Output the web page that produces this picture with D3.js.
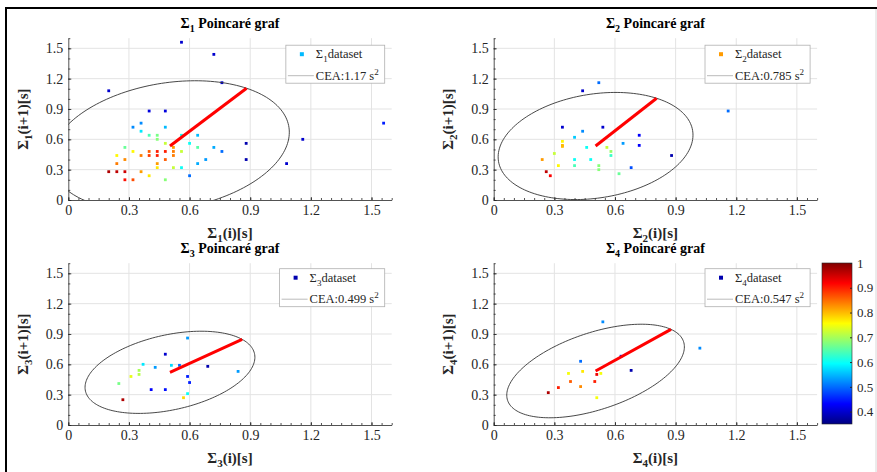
<!DOCTYPE html>
<html>
<head>
<meta charset="utf-8">
<script src="https://cdn.jsdelivr.net/npm/d3@7"></script>
<style>
body { margin: 0; background: #fff; }
svg { display: block; font-family: "Liberation Serif", "Times New Roman", serif; }
</style>
</head>
<body>
<div id="chart"></div>
<script>
// ---- data ----
var s1x = [0.40,0.48,0.32,0.36,0.48,0.36,0.40,0.44,0.44,0.56,0.64,0.48,0.52,0.60,0.64,0.72,0.76,0.88,0.88,
           0.28,0.24,0.32,0.24,0.28,0.36,0.40,0.40,0.44,0.44,0.48,0.48,0.52,0.52,0.56,0.44,0.44,0.52,0.56,
           0.20,0.24,0.28,0.36,0.40,0.28,0.32,0.48,0.60,0.64,0.68,
           0.56,0.72,0.76,0.20,1.56,1.16,1.08];
var s1y = [0.88,0.88,0.72,0.76,0.72,0.68,0.64,0.64,0.60,0.64,0.64,0.56,0.52,0.56,0.52,0.52,0.48,0.56,0.40,
           0.52,0.44,0.48,0.36,0.40,0.44,0.48,0.44,0.48,0.44,0.48,0.40,0.48,0.44,0.48,0.36,0.32,0.32,0.32,
           0.28,0.28,0.28,0.28,0.24,0.20,0.20,0.20,0.24,0.36,0.40,
           1.56,1.44,1.16,1.08,0.76,0.60,0.36];
var s1c = [0.41,0.41,0.52,0.52,0.55,0.58,0.64,0.67,0.68,0.60,0.55,0.72,0.82,0.60,0.65,0.54,0.50,0.38,0.38,
           0.66,0.76,0.76,0.84,0.83,0.84,0.86,0.88,0.90,0.90,0.90,0.86,0.84,0.84,0.72,0.82,0.77,0.72,0.60,
           0.97,0.96,0.95,0.82,0.77,0.91,0.87,0.68,0.50,0.54,0.53,
           0.40,0.40,0.40,0.40,0.45,0.40,0.40];

var s2x = [0.52,0.44,1.16,0.34,0.54,0.44,0.40,0.72,0.72,0.64,0.34,0.34,0.34,0.46,0.56,0.58,0.58,0.30,
           0.24,0.40,0.48,0.32,0.40,0.52,0.52,0.68,0.62,0.26,0.28,0.88];
var s2y = [1.16,1.08,0.88,0.72,0.72,0.68,0.62,0.64,0.54,0.56,0.58,0.54,0.53,0.52,0.52,0.48,0.44,0.46,
           0.40,0.40,0.40,0.34,0.34,0.34,0.30,0.32,0.26,0.28,0.24,0.44];
var s2c = [0.50,0.40,0.50,0.40,0.40,0.52,0.56,0.43,0.43,0.53,0.76,0.80,0.80,0.60,0.72,0.69,0.63,0.72,
           0.82,0.60,0.60,0.76,0.64,0.68,0.68,0.48,0.66,0.96,0.92,0.38];

var s3x = [0.59,0.48,0.37,0.43,0.51,0.55,0.69,0.84,0.35,0.35,0.31,0.25,0.59,0.60,0.41,0.48,0.59,0.57,0.27];
var s3y = [0.86,0.70,0.60,0.57,0.59,0.59,0.58,0.53,0.54,0.50,0.48,0.41,0.48,0.42,0.35,0.35,0.31,0.27,0.25];
var s3c = [0.53,0.40,0.58,0.53,0.57,0.50,0.38,0.53,0.70,0.71,0.74,0.67,0.45,0.45,0.43,0.44,0.60,0.78,0.97];

var s4x = [0.54,1.02,0.63,0.43,0.68,0.37,0.44,0.53,0.51,0.38,0.50,0.32,0.43,0.27,0.51];
var s4y = [1.02,0.76,0.68,0.63,0.54,0.51,0.53,0.51,0.50,0.43,0.43,0.37,0.38,0.32,0.27];
var s4c = [0.52,0.52,0.45,0.50,0.38,0.75,0.77,0.75,0.93,0.86,0.90,0.90,0.83,0.97,0.75];

var subs = ['1', '2', '3', '4'];
var ceaVals = [1.17, 0.785, 0.499, 0.547];
var ceaLabels = ['1.17', '0.785', '0.499', '0.547'];
var centerX = [0.503, 0.504, 0.503, 0.504];
var centerY = [0.534, 0.534, 0.521, 0.534];
var axisEndX = [0.882, 0.806, 0.860, 0.877];
var axisEndY = [1.105, 1.006, 0.847, 0.946];
var legendC = [0.55, 0.82, 0.38, 0.38];

var tickVals = [0, 0.3, 0.6, 0.9, 1.2, 1.5];
var cbarTicks = [0.4, 0.5, 0.6, 0.7, 0.8, 0.9, 1];
var cRange = [0.35, 1];

var xs = [s1x, s2x, s3x, s4x], ys = [s1y, s2y, s3y, s4y], cs = [s1c, s2c, s3c, s4c];

// ---- layout ----
var width = 877, height = 472;
var colLeft = [68.3, 493.7], rowTop = [38.2, 263.2];
var pw = 323.4, ph = 161.8;
var axisColor = '#262626';
var serif = '"Liberation Serif","Times New Roman",serif';

var svg = d3.select('#chart').append('svg')
	.attr('width', width)
	.attr('height', height);

// jet colormap over the colour range
var jetPos = [0, 0.125, 0.375, 0.625, 0.875, 1];
var jetCol = ['#000080', '#0000ff', '#00ffff', '#ffff00', '#ff0000', '#800000'];
var jet = d3.scaleLinear()
	.domain(jetPos.map(function (p) { return cRange[0] + p * (cRange[1] - cRange[0]); }))
	.range(jetCol)
	.clamp(true);

var fmt = function (d) { return d === 0 ? '0' : (d === 1 ? '1' : d3.format('.1f')(d)); };

// Σ with a subscript, then the rest
function sigmaText(sel, sub, rest, subSize) {
	sel.append('tspan').text('Σ');
	sel.append('tspan').attr('dy', 4).attr('font-size', subSize).text(sub);
	sel.append('tspan').attr('dy', -4).text(rest);
}

var defs = svg.append('defs');

function drawPanel(i) {
	var px0 = colLeft[i % 2], py0 = rowTop[Math.floor(i / 2)];
	var x = d3.scaleLinear().domain([0, 1.6]).range([px0, px0 + pw]);
	var y = d3.scaleLinear().domain([0, 1.6]).range([py0 + ph, py0]);
	var g = svg.append('g');

	defs.append('clipPath').attr('id', 'clip' + i)
		.append('rect').attr('x', px0).attr('y', py0).attr('width', pw).attr('height', ph);

	// grid
	g.selectAll('.gx').data(tickVals.slice(1)).enter().append('line')
		.attr('x1', function (d) { return x(d); }).attr('x2', function (d) { return x(d); })
		.attr('y1', py0).attr('y2', py0 + ph)
		.attr('stroke', '#e3e3e3').attr('stroke-width', 1);
	g.selectAll('.gy').data(tickVals.slice(1)).enter().append('line')
		.attr('y1', function (d) { return y(d); }).attr('y2', function (d) { return y(d); })
		.attr('x1', px0).attr('x2', px0 + pw)
		.attr('stroke', '#e3e3e3').attr('stroke-width', 1);

	// axes, major and minor ticks pointing inward
	g.append('g').attr('transform', 'translate(0,' + (py0 + ph) + ')')
		.call(d3.axisBottom(x).tickValues(tickVals).tickFormat(fmt).tickSizeInner(-3).tickSizeOuter(0).tickPadding(5));
	g.append('g').attr('transform', 'translate(0,' + (py0 + ph) + ')')
		.call(d3.axisBottom(x).tickValues(d3.range(0, 1.601, 0.05)).tickFormat('').tickSizeInner(-2).tickSizeOuter(0))
		.select('.domain').remove();
	g.append('g').attr('transform', 'translate(' + px0 + ',0)')
		.call(d3.axisLeft(y).tickValues(tickVals).tickFormat(fmt).tickSizeInner(-3).tickSizeOuter(0).tickPadding(5));
	g.append('g').attr('transform', 'translate(' + px0 + ',0)')
		.call(d3.axisLeft(y).tickValues(d3.range(0, 1.601, 0.1)).tickFormat('').tickSizeInner(-2).tickSizeOuter(0))
		.select('.domain').remove();
	g.selectAll('.domain, .tick line').attr('stroke', axisColor).attr('stroke-width', 0.8);
	g.selectAll('.tick text').attr('fill', axisColor).attr('font-size', 14).attr('font-family', serif);

	// points
	var pts = xs[i].map(function (v, k) { return { x: v, y: ys[i][k], c: cs[i][k] }; });
	var ms = 2.8;
	g.append('g').attr('clip-path', 'url(#clip' + i + ')')
		.selectAll('rect').data(pts).enter().append('rect')
		.attr('x', function (d) { return x(d.x) - ms / 2; })
		.attr('y', function (d) { return y(d.y) - ms / 2; })
		.attr('width', ms).attr('height', ms)
		.attr('fill', function (d) { return jet(d.c); });

	// confidence ellipse from centre, semi-major axis and area
	var dx = axisEndX[i] - centerX[i], dy = axisEndY[i] - centerY[i];
	var a = Math.hypot(dx, dy), b = ceaVals[i] / (Math.PI * a);
	var ux = dx / a, uy = dy / a;
	var cx = centerX[i], cy = centerY[i];
	var ell = d3.range(0, 361, 2).map(function (deg) {
		var t = deg * Math.PI / 180;
		return [cx + a * Math.cos(t) * ux - b * Math.sin(t) * uy,
		        cy + a * Math.cos(t) * uy + b * Math.sin(t) * ux];
	});
	var line = d3.line().x(function (d) { return x(d[0]); }).y(function (d) { return y(d[1]); });
	g.append('path').datum(ell).attr('d', line)
		.attr('clip-path', 'url(#clip' + i + ')')
		.attr('fill', 'none').attr('stroke', '#333').attr('stroke-width', 0.9);
	g.append('line')
		.attr('x1', x(cx)).attr('y1', y(cy))
		.attr('x2', x(axisEndX[i])).attr('y2', y(axisEndY[i]))
		.attr('stroke', '#ff0000').attr('stroke-width', 3);

	// title and labels
	var cxp = px0 + pw / 2;
	sigmaText(g.append('text').attr('x', cxp).attr('y', py0 - 10.5)
		.attr('text-anchor', 'middle').attr('font-weight', 'bold').attr('font-size', 14)
		.attr('fill', '#000'), subs[i], ' Poincaré graf', 10);
	sigmaText(g.append('text').attr('x', cxp).attr('y', py0 + ph + 38)
		.attr('text-anchor', 'middle').attr('font-weight', 'bold').attr('font-size', 15)
		.attr('fill', axisColor), subs[i], '(i)[s]', 11);
	sigmaText(g.append('text').attr('transform', 'translate(' + (px0 - 40.5) + ',' + (py0 + ph / 2) + ') rotate(-90)')
		.attr('text-anchor', 'middle').attr('font-weight', 'bold').attr('font-size', 15)
		.attr('fill', axisColor), subs[i], '(i+1)[s]', 11);

	// legend
	var lg = g.append('g');
	var box = lg.append('rect');
	var t1 = lg.append('text').attr('font-size', 12.5).attr('fill', axisColor);
	sigmaText(t1, subs[i], 'dataset', 9);
	var t2 = lg.append('text').attr('font-size', 12.5).attr('fill', axisColor);
	t2.append('tspan').text('CEA:' + ceaLabels[i] + ' s');
	t2.append('tspan').attr('dy', -5).attr('font-size', 9).text('2');
	var tw = Math.max(t1.node().getComputedTextLength(), t2.node().getComputedTextLength());
	var lw = tw + 36, lh = 38;
	var lr = px0 + pw - 7, lx = lr - lw, ly = py0 + (i < 2 ? 7 : 5.5);
	box.attr('x', lx).attr('y', ly).attr('width', lw).attr('height', lh)
		.attr('fill', '#fff').attr('stroke', '#b0b0b0').attr('stroke-width', 0.8);
	t1.attr('x', lx + 30).attr('y', ly + 13);
	t2.attr('x', lx + 30).attr('y', ly + 34.5);
	lg.append('rect').attr('x', lx + 14).attr('y', ly + 7).attr('width', 4).attr('height', 4)
		.attr('fill', jet(legendC[i]));
	lg.append('line').attr('x1', lx + 2).attr('x2', lx + 28)
		.attr('y1', ly + 30.5).attr('y2', ly + 30.5)
		.attr('stroke', '#bbbbbb').attr('stroke-width', 1);
}

for (var i = 0; i < 4; i++) drawPanel(i);

// ---- colorbar ----
var cbX = 822, cbW = 30, cbTop = 263, cbBot = 424;
var cScale = d3.scaleLinear().domain(cRange).range([cbBot, cbTop]);
var grad = defs.append('linearGradient').attr('id', 'jetgrad')
	.attr('x1', 0).attr('y1', 1).attr('x2', 0).attr('y2', 0);
grad.selectAll('stop').data(jetPos).enter().append('stop')
	.attr('offset', function (d) { return d; })
	.attr('stop-color', function (d, k) { return jetCol[k]; });
svg.append('rect').attr('x', cbX).attr('y', cbTop).attr('width', cbW).attr('height', cbBot - cbTop)
	.attr('fill', 'url(#jetgrad)').attr('stroke', axisColor).attr('stroke-width', 0.6);
var cbAx = svg.append('g').attr('transform', 'translate(' + (cbX + cbW) + ',0)')
	.call(d3.axisRight(cScale).tickValues(cbarTicks).tickFormat(fmt).tickSizeInner(-2).tickSizeOuter(0).tickPadding(5));
cbAx.select('.domain').remove();
cbAx.selectAll('.tick line').attr('stroke', axisColor);
cbAx.selectAll('.tick text').attr('fill', axisColor).attr('font-size', 13).attr('font-family', serif);

// ---- outer frame ----
svg.append('line').attr('x1', 6).attr('x2', 6).attr('y1', 7).attr('y2', height)
	.attr('stroke', '#000').attr('stroke-width', 2);
svg.append('line').attr('x1', 5).attr('x2', width).attr('y1', 8).attr('y2', 8)
	.attr('stroke', '#000').attr('stroke-width', 2);
svg.append('line').attr('x1', 876).attr('x2', 876).attr('y1', 9).attr('y2', height)
	.attr('stroke', '#d8d8d8').attr('stroke-width', 1);
</script>
</body>
</html>
